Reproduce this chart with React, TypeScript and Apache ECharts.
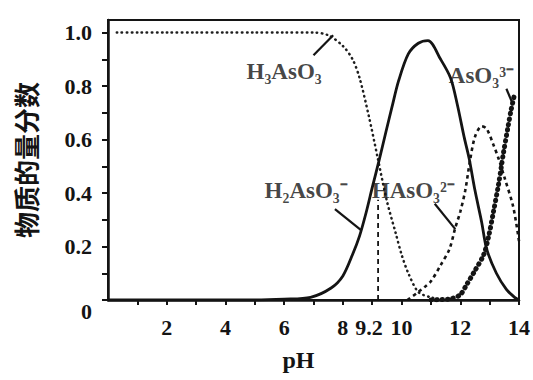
import React, { useEffect, useRef } from "react";
import * as echarts from "echarts";

// ---- data ----
const phH3AsO3 = [0.3, 1, 2, 3, 4, 5, 6, 7, 7.5, 8, 8.33, 8.57, 8.9, 9.17, 9.5, 9.8, 10.0, 10.23, 10.57, 11, 11.5];
const valH3AsO3 = [1, 1, 1, 1, 1, 1, 1, 1, 0.99, 0.95, 0.9, 0.83, 0.68, 0.54, 0.37, 0.25, 0.17, 0.1, 0.03, 0.01, 0];

const phH2AsO3 = [0, 2, 4, 5, 6, 6.9, 7.6, 8.0, 8.33, 8.57, 8.8, 9.0, 9.23, 9.47, 9.67, 9.9, 10.23, 10.57, 10.9, 11.33, 11.67, 11.9, 12.13, 12.3, 12.5, 12.73, 12.9, 13.23, 13.57, 13.85, 14];
const valH2AsO3 = [0, 0, 0, 0, 0.003, 0.01, 0.045, 0.09, 0.17, 0.24, 0.33, 0.42, 0.52, 0.63, 0.72, 0.82, 0.92, 0.96, 0.97, 0.9, 0.83, 0.73, 0.61, 0.53, 0.41, 0.29, 0.19, 0.1, 0.04, 0.01, 0];

const phHAsO3 = [10.2, 10.57, 10.8, 11.0, 11.33, 11.63, 11.83, 12.0, 12.17, 12.33, 12.5, 12.73, 12.9, 13.13, 13.3, 13.5, 13.8, 14];
const valHAsO3 = [0, 0.03, 0.05, 0.07, 0.13, 0.19, 0.27, 0.33, 0.41, 0.52, 0.61, 0.65, 0.64, 0.58, 0.53, 0.46, 0.35, 0.22];

const phAsO3 = [11.0, 11.4, 11.7, 12.0, 12.23, 12.5, 12.8, 12.97, 13.13, 13.3, 13.4, 13.47, 13.63, 13.73, 13.85];
const valAsO3 = [0, 0.002, 0.005, 0.02, 0.06, 0.11, 0.17, 0.24, 0.33, 0.43, 0.5, 0.55, 0.65, 0.71, 0.77];

const pKa1Line = [[9.2, 0], [9.2, 0.375]];

const xTickValues = [1, 2, 3, 4, 5, 6, 7, 8, 9, 10, 11, 12, 13, 14];
const xLabelValues = [2, 4, 6, 8, 9.2, 10, 12, 14];
const yTickValues = [0, 0.1, 0.2, 0.3, 0.4, 0.5, 0.6, 0.7, 0.8, 0.9, 1.0];
const yLabelValues = [0, 0.2, 0.4, 0.6, 0.8, 1.0];

const speciesLabels = ["H₃AsO₃", "H₂AsO₃⁻", "HAsO₃²⁻", "AsO₃³⁻"];
const labelPos = [[6.0, 0.855], [6.75, 0.41], [10.4, 0.41], [12.72, 0.84]];
const leaderLines = [
  [[7.0, 0.915], [7.67, 0.99]],
  [[7.73, 0.34], [8.63, 0.26]],
  [[11.13, 0.36], [11.83, 0.265]],
  [[13.57, 0.79], [13.8, 0.73]],
];

const zip = (xs: number[], ys: number[]) => xs.map((x, i) => [x, ys[i]]);

const serif = "'Liberation Serif', 'Times New Roman', serif";
const ink = "#141414";

export default function App() {
  const ref = useRef<HTMLDivElement>(null);

  useEffect(() => {
    if (!ref.current) return;
    const chart = echarts.init(ref.current, null, { renderer: "svg" });

    const lineBase = {
      type: "line",
      symbol: "none",
      showSymbol: false,
      smooth: 0.3,
      silent: true,
      z: 3,
    };

    const option: any = {
      animation: false,
      backgroundColor: "#ffffff",
      grid: {
        left: 108,
        right: 11,
        top: 20,
        bottom: 80,
        show: true,
        borderColor: ink,
        borderWidth: 2,
        backgroundColor: "transparent",
      },
      xAxis: {
        type: "value",
        min: 0,
        max: 14,
        name: "pH",
        nameLocation: "middle",
        nameGap: 48,
        nameTextStyle: {
          fontFamily: serif,
          fontWeight: "bold",
          fontSize: 24,
          color: ink,
          padding: [0, 30, 0, 0],
        },
        axisLine: { lineStyle: { color: ink, width: 2.5 } },
        axisTick: {
          show: true,
          inside: false,
          length: 5,
          customValues: xTickValues,
          lineStyle: { color: ink, width: 2 },
        },
        axisLabel: {
          customValues: xLabelValues,
          margin: 16,
          fontFamily: serif,
          fontWeight: "bold",
          fontSize: 22,
          color: ink,
          formatter: (v: number) => (Math.abs(v - 9.2) < 1e-6 ? "{s|9.2}" : String(v)),
          rich: {
            s: {
              fontFamily: serif,
              fontWeight: "bold",
              fontSize: 22,
              color: ink,
              padding: [0, 18, 0, 0],
            },
          },
        },
        splitLine: { show: false },
      },
      yAxis: {
        type: "value",
        min: 0,
        max: 1.047,
        name: "物质的量分数",
        nameLocation: "middle",
        nameRotate: 90,
        nameGap: 70,
        nameTextStyle: {
          fontFamily: "'Noto Sans CJK SC', sans-serif",
          fontWeight: "bold",
          fontSize: 26,
          color: ink,
        },
        axisLine: { show: true, lineStyle: { color: ink, width: 2.5 } },
        axisTick: {
          show: true,
          inside: false,
          length: 6,
          customValues: yTickValues,
          lineStyle: { color: ink, width: 2 },
        },
        axisLabel: {
          customValues: yLabelValues,
          margin: 16,
          fontFamily: serif,
          fontWeight: "bold",
          fontSize: 22,
          color: ink,
          formatter: (v: number) => (v === 0 ? "{z|0}" : v.toFixed(1)),
          rich: {
            z: {
              fontFamily: serif,
              fontWeight: "bold",
              fontSize: 22,
              color: ink,
              padding: [22, 0, 0, 0],
            },
          },
        },
        splitLine: { show: false },
      },
      series: [
        {
          ...lineBase,
          name: "H3AsO3",
          data: zip(phH3AsO3, valH3AsO3),
          lineStyle: { color: "#1e1e1e", width: 2.5, type: [0.5, 4.5], cap: "round" },
        },
        {
          ...lineBase,
          name: "H2AsO3-",
          data: zip(phH2AsO3, valH2AsO3),
          lineStyle: { color: ink, width: 2.8, type: "solid" },
        },
        {
          ...lineBase,
          name: "HAsO3 2-",
          data: zip(phHAsO3, valHAsO3),
          lineStyle: { color: ink, width: 2.6, type: [3.5, 3.5] },
        },
        {
          ...lineBase,
          name: "AsO3 3-",
          data: zip(phAsO3, valAsO3),
          lineStyle: { color: ink, width: 5, type: [0.5, 5], cap: "round" },
        },
        {
          ...lineBase,
          name: "pKa1",
          smooth: false,
          data: pKa1Line,
          lineStyle: { color: ink, width: 1.8, type: [5, 4] },
        },
        ...leaderLines.map((seg, i) => ({
          ...lineBase,
          name: "leader" + i,
          smooth: false,
          data: seg,
          lineStyle: { color: ink, width: 2.2, type: "solid" },
        })),
        {
          type: "scatter",
          name: "labels",
          silent: true,
          symbolSize: 0,
          z: 5,
          data: labelPos.map((p, i) => ({ value: p, name: speciesLabels[i] })),
          label: {
            show: true,
            position: "inside",
            formatter: "{b}",
            fontFamily: serif,
            fontWeight: "bold",
            fontSize: 23,
            color: ink,
          },
        },
      ],
    };

    chart.setOption(option);
    return () => chart.dispose();
  }, []);

  return (
    <div
      ref={ref}
      style={{ position: "absolute", left: 0, top: 0, width: 533, height: 380, background: "#fff" }}
    />
  );
}
